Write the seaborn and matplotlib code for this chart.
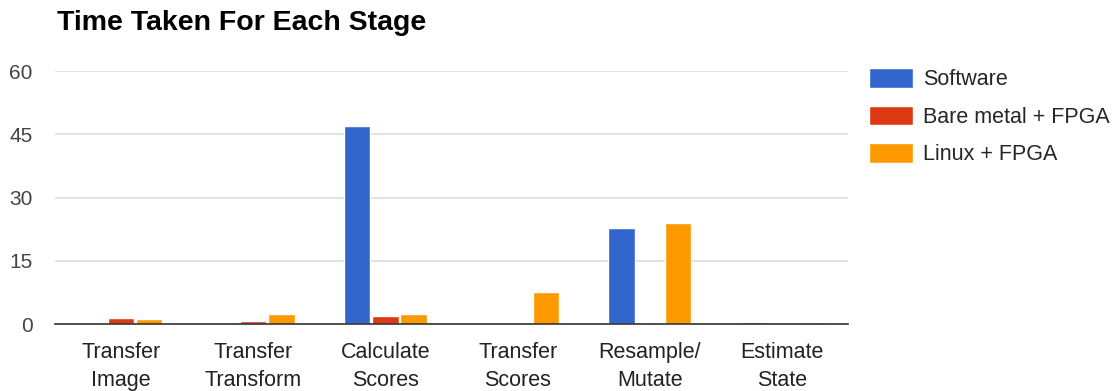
import pandas as pd
import matplotlib
matplotlib.use('Agg')
import matplotlib.pyplot as plt
import seaborn as sns
from matplotlib.patches import Patch

stages = ['Transfer\nImage', 'Transfer\nTransform', 'Calculate\nScores',
          'Transfer\nScores', 'Resample/\nMutate', 'Estimate\nState']
series = ['Software', 'Bare metal + FPGA', 'Linux + FPGA']
software = [0, 0, 47.0, 0, 22.7, 0.6]
bare_metal = [1.5, 0.8, 2.0, 0, 0, 0]
linux = [1.2, 2.5, 2.4, 7.7, 24.0, 0.5]
colors = ['#3366cc', '#dc3912', '#ff9900']

df = pd.DataFrame({'stage': stages * 3,
                   'series': [s for s in series for _ in stages],
                   'time': software + bare_metal + linux})

sns.set_style('white')
plt.rcParams['font.family'] = ['Liberation Sans', 'DejaVu Sans']

fig = plt.figure(figsize=(11.19, 3.91), dpi=100)
ax = fig.add_axes([0.049, 0.171, 0.709, 0.647])

sns.barplot(data=df, x='stage', y='time', hue='series', palette=colors,
            width=0.64, gap=0.06, ax=ax, legend=False, saturation=1)

ax.set_ylim(0, 60)
ax.set_yticks([0, 15, 30, 45, 60])
ax.set_xlim(-0.5, 5.5)
ax.grid(axis='y', color='#dddddd', linewidth=1.2)
ax.set_axisbelow(True)
for s in ['top', 'right', 'left']:
    ax.spines[s].set_visible(False)
ax.spines['bottom'].set_color('#333333')
ax.spines['bottom'].set_linewidth(1.2)
ax.tick_params(axis='both', length=0, labelsize=15.5, colors='#222222')
ax.tick_params(axis='y', pad=16, colors='#444444', labelsize=15)
ax.tick_params(axis='x', pad=13)
for lbl in ax.get_xticklabels():
    lbl.set_linespacing(1.45)
ax.set_xlabel('')
ax.set_ylabel('')

fig.text(0.051, 0.94, 'Time Taken For Each Stage', fontsize=20.5,
         fontweight='bold', ha='left', va='center', color='#000000')

handles = [Patch(facecolor=c, label=s) for s, c in zip(series, colors)]
fig.legend(handles=handles, loc='upper left', bbox_to_anchor=(0.7766, 0.825),
           frameon=False, fontsize=15.5, handlelength=2.05, handleheight=1.0,
           handletextpad=0.45, labelspacing=0.72, borderaxespad=0, borderpad=0)

fig.savefig('out.png', dpi=100)
